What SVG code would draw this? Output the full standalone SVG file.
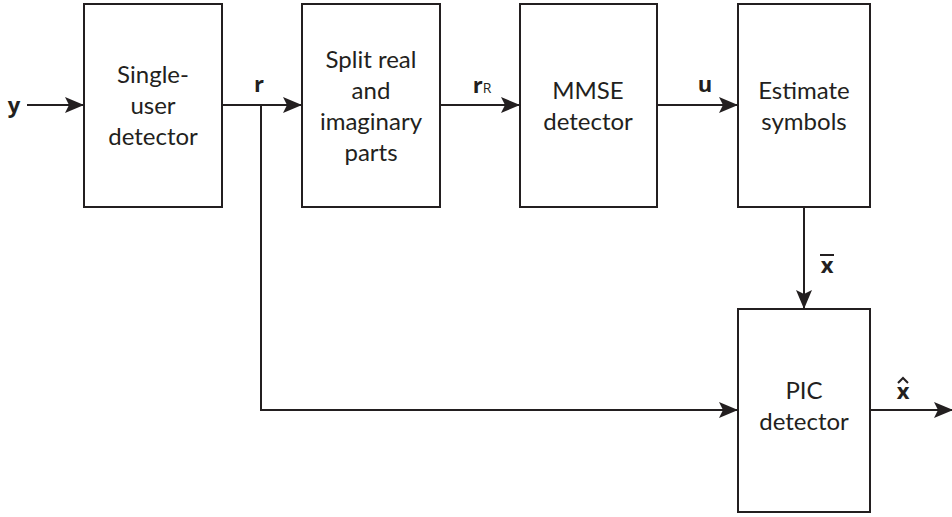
<svg xmlns="http://www.w3.org/2000/svg" width="952" height="517" viewBox="0 0 952 517">
  <defs>
    <marker id="arrow" markerWidth="19" markerHeight="16" refX="18" refY="8" orient="auto" markerUnits="userSpaceOnUse">
      <path d="M0,0 L19,8 L0,16 L4,8 Z" fill="#231f20"/>
    </marker>
    <style>
      .box { fill: #ffffff; stroke: #231f20; stroke-width: 2; }
      .lbl { font-family: Lato, "Open Sans", "Liberation Sans", sans-serif; font-size: 24px; fill: #231f20; text-anchor: middle; }
      .sig { font-family: "Open Sans", "Liberation Sans", sans-serif; font-size: 22px; font-weight: bold; fill: #231f20; text-anchor: middle; }
      .wire { fill: none; stroke: #231f20; stroke-width: 2; }
    </style>
  </defs>
  <rect width="952" height="517" fill="#ffffff"/>

  <!-- processing blocks -->
  <g id="single-user-detector">
    <rect class="box" x="84" y="4" width="138" height="203"/>
    <text class="lbl" x="153" y="83">Single-</text>
    <text class="lbl" x="153" y="114">user</text>
    <text class="lbl" x="153" y="145">detector</text>
  </g>
  <g id="split-real-imag">
    <rect class="box" x="302" y="4" width="138" height="203"/>
    <text class="lbl" x="371" y="68">Split real</text>
    <text class="lbl" x="371" y="99">and</text>
    <text class="lbl" x="371" y="130">imaginary</text>
    <text class="lbl" x="371" y="161">parts</text>
  </g>
  <g id="mmse-detector">
    <rect class="box" x="520" y="4" width="137" height="203"/>
    <text class="lbl" x="588" y="99">MMSE</text>
    <text class="lbl" x="588" y="130">detector</text>
  </g>
  <g id="estimate-symbols">
    <rect class="box" x="738" y="4" width="132" height="203"/>
    <text class="lbl" x="804" y="99">Estimate</text>
    <text class="lbl" x="804" y="130">symbols</text>
  </g>
  <g id="pic-detector">
    <rect class="box" x="738" y="309" width="132" height="203"/>
    <text class="lbl" x="804" y="399">PIC</text>
    <text class="lbl" x="804" y="430">detector</text>
  </g>

  <!-- signal flow -->
  <g id="connectors">
    <line class="wire" x1="27" y1="105" x2="83" y2="105" marker-end="url(#arrow)"/>
    <line class="wire" x1="222" y1="105" x2="301" y2="105" marker-end="url(#arrow)"/>
    <polyline class="wire" points="261,105 261,410 737,410" marker-end="url(#arrow)"/>
    <line class="wire" x1="440" y1="105" x2="519" y2="105" marker-end="url(#arrow)"/>
    <line class="wire" x1="657" y1="105" x2="737" y2="105" marker-end="url(#arrow)"/>
    <line class="wire" x1="804" y1="207" x2="804" y2="308" marker-end="url(#arrow)"/>
    <line class="wire" x1="870" y1="410" x2="952" y2="410" marker-end="url(#arrow)"/>
  </g>

  <!-- signal labels -->
  <g id="signal-labels">
    <text class="sig" x="14" y="113">y</text>
    <text class="sig" x="259" y="92">r</text>
    <text class="sig" x="482" y="93">r<tspan font-size="14" font-weight="normal">R</tspan></text>
    <text class="sig" x="705" y="92">u</text>
    <text class="sig" x="827" y="273">x</text>
    <line x1="820" y1="255" x2="834" y2="255" stroke="#231f20" stroke-width="2"/>
    <text class="sig" x="903" y="399">x</text>
    <path d="M898,383 L903,378 L908,383" fill="none" stroke="#231f20" stroke-width="2"/>
  </g>
</svg>
